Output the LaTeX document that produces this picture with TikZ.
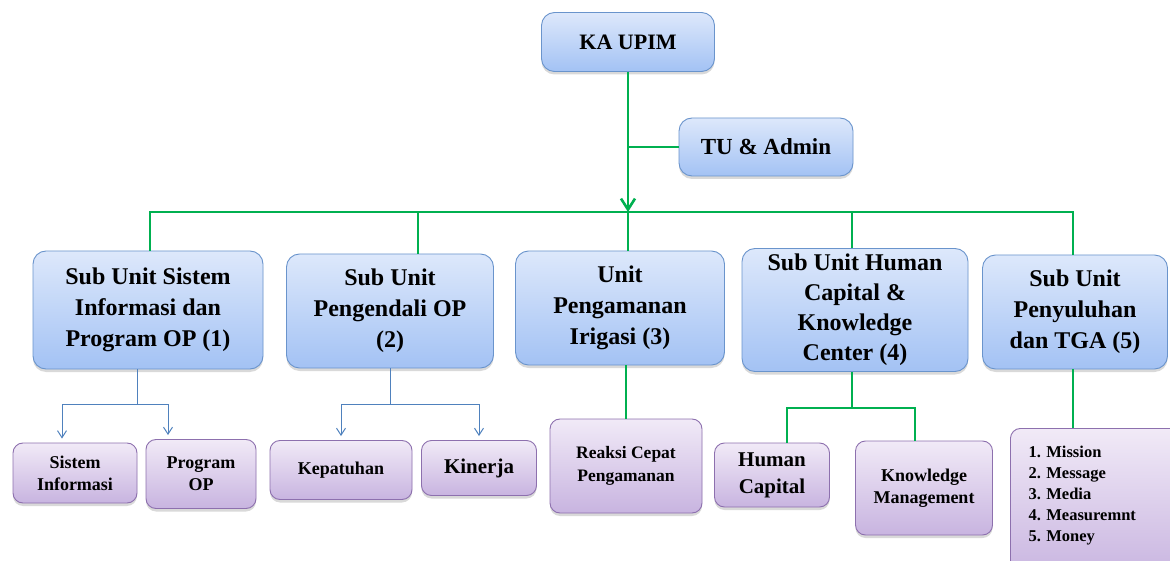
\documentclass[tikz,border=0pt]{standalone}
\usepackage{fontspec}
\setmainfont{Liberation Serif}
\usetikzlibrary{arrows.meta,shadows}

\definecolor{unittop}{HTML}{DDE8FB}
\definecolor{unitbot}{HTML}{A3C2F4}
\definecolor{unitline}{HTML}{6A94CC}
\definecolor{subtop}{HTML}{F1EAF7}
\definecolor{subbot}{HTML}{C8B4E0}
\definecolor{subline}{HTML}{8D70AE}
\definecolor{hubgreen}{HTML}{00B050}
\definecolor{linkblue}{HTML}{4F81BD}

\tikzset{
	unit/.style={draw=unitline, line width=0.9pt, rounded corners=13pt,
		top color=unittop, bottom color=unitbot, align=center, inner sep=0pt,
		drop shadow={opacity=0.3, shadow xshift=0pt, shadow yshift=-3pt},
		font=\bfseries\fontsize{24}{31}\selectfont},
	sub/.style={draw=subline, line width=0.9pt, rounded corners=10pt,
		top color=subtop, bottom color=subbot, align=center, inner sep=0pt,
		drop shadow={opacity=0.3, shadow xshift=0pt, shadow yshift=-3pt},
		font=\bfseries\fontsize{18}{22}\selectfont},
	hub/.style={draw=hubgreen, line width=2.6pt},
	link/.style={draw=linkblue, line width=1pt},
	tip/.style={-{Straight Barb[length=7pt, width=9pt]}, shorten >=4pt},
}

\begin{document}
\begin{tikzpicture}[x=1pt, y=-1pt]
	\useasboundingbox (0,0) rectangle (1170,561);

	% top
	\node[unit, minimum width=173pt, minimum height=59pt, font=\bfseries\fontsize{22}{26}\selectfont] (ka) at (628,42) {KA UPIM};
	\node[unit, minimum width=174pt, minimum height=58pt, font=\bfseries\fontsize{23}{26}\selectfont] (tu) at (766,147) {TU \& Admin};

	% units
	\node[unit, minimum width=230pt, minimum height=118pt] (s1) at (148,310) {Sub Unit Sistem\\Informasi dan\\Program OP (1)};
	\node[unit, minimum width=207pt, minimum height=114pt] (s2) at (390,311) {Sub Unit\\Pengendali OP\\(2)};
	\node[unit, minimum width=209pt, minimum height=114pt] (s3) at (620,308) {Unit\\Pengamanan\\Irigasi (3)};
	\node[unit, minimum width=226pt, minimum height=123pt, font=\bfseries\fontsize{24}{30}\selectfont] (s4) at (855,310) {Sub Unit Human\\Capital \&\\Knowledge\\Center (4)};
	\node[unit, minimum width=185pt, minimum height=114pt] (s5) at (1075,312) {Sub Unit\\Penyuluhan\\dan TGA (5)};

	% sub units
	\node[sub, minimum width=124pt, minimum height=60pt] (si) at (75,473) {Sistem\\Informasi};
	\node[sub, minimum width=110pt, minimum height=69pt] (po) at (201,474) {Program\\OP};
	\node[sub, minimum width=142pt, minimum height=59pt] (kp) at (341,470) {Kepatuhan};
	\node[sub, minimum width=115pt, minimum height=55pt, font=\bfseries\fontsize{21}{26}\selectfont] (kn) at (479,468) {Kinerja};
	\node[sub, minimum width=152pt, minimum height=94pt, font=\bfseries\fontsize{17.5}{23}\selectfont] (rc) at (626,466) {Reaksi Cepat\\Pengamanan};
	\node[sub, minimum width=115pt, minimum height=64pt, font=\bfseries\fontsize{21}{27}\selectfont] (hc) at (772,475) {Human\\Capital};
	\node[sub, minimum width=137pt, minimum height=94pt] (km) at (924,488) {Knowledge\\Management};
	\node[sub, minimum width=180pt, minimum height=150pt, anchor=north west,
		label={[anchor=north west, align=left, xshift=15pt, yshift=-15pt, font=\bfseries\fontsize{16.5}{21}\selectfont]north west:1. Mission\\2. Message\\3. Media\\4. Measuremnt\\5. Money}] (ls) at (1010,428) {};

	% green lines
	\coordinate (b1) at (150,212);
	\coordinate (b2) at (418,212);
	\coordinate (b3) at (628,212);
	\coordinate (b4) at (852,212);
	\coordinate (b5) at (1073,212);
	\draw[hub] (ka.south |- tu.west) -- (tu.west);
	\draw[hub, -{Straight Barb[length=11pt, width=14pt]}] (ka.south) -- (b3);
	\draw[hub] (b1 |- s1.north) -- (b1) -- (b5) -- (b5 |- s5.north);
	\draw[hub] (b2) -- (b2 |- s2.north);
	\draw[hub] (b3) -- (b3 |- s3.north);
	\draw[hub] (b4) -- (b4 |- s4.north);

	\draw[hub] (rc.north |- s3.south) -- (rc.north);
	\draw[hub] ([xshift=-3pt]s4.south) -- ++(0,36) coordinate (f4);
	\draw[hub] ([xshift=15pt]hc.north) |- (f4) -| ([xshift=-9pt]km.north);
	\draw[hub] ([xshift=-2pt]s5.south) -- ([xshift=-2pt]s5.south |- ls.north);

	% blue lines
	\draw[link] ([xshift=-11pt]s1.south) -- ++(0,35) coordinate (f1);
	\draw[link, tip] (f1) -| ([xshift=-13pt]si.north);
	\draw[link, tip] (f1) -| ([xshift=-33pt]po.north);
	\draw[link] (s2.south) -- ++(0,36) coordinate (f2);
	\draw[link, tip] (f2) -| (kp.north);
	\draw[link, tip] (f2) -| (kn.north);
\end{tikzpicture}
\end{document}
